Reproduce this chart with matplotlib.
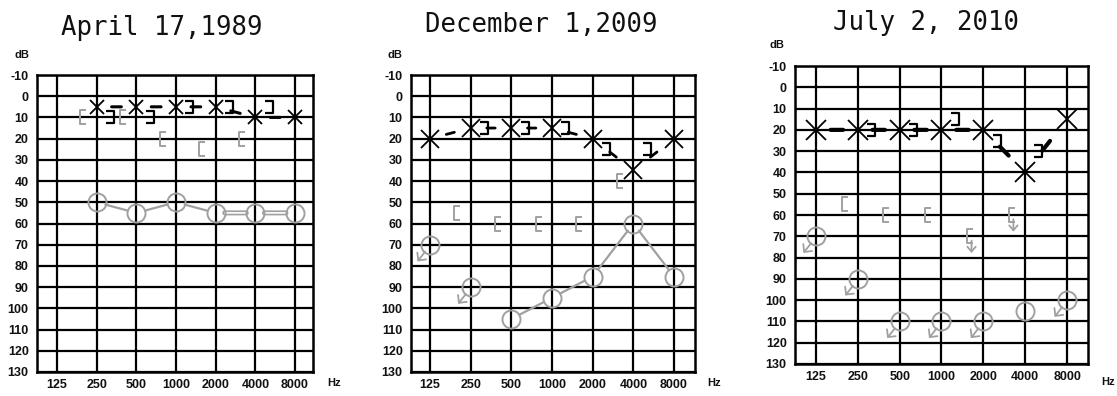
import numpy as np
import matplotlib
matplotlib.use("Agg")
import matplotlib.pyplot as plt
from matplotlib.path import Path
from matplotlib.transforms import ScaledTranslation
from matplotlib.ticker import NullLocator
from matplotlib import font_manager

plt.rcParams['axes.unicode_minus'] = False

# ---------------- data ----------------
FREQS = [125, 250, 500, 1000, 2000, 4000, 8000]
FREQ_LABELS = ['125', '250', '500', '1000', '2000', '4000', '8000']
DB_TICKS = list(range(-10, 131, 10))
TITLES = ['April 17,1989', 'December 1,2009', 'July 2, 2010']

# Panel 1 : April 17, 1989
P1_X_FREQ = [250, 500, 1000, 2000, 4000, 8000]
P1_X_DB = [5, 5, 5, 5, 10, 10]
P1_LB_FREQ = [250, 500, 1000, 2000, 4000]
P1_LB_DB = [10, 10, 5, 5, 5]
P1_RB_FREQ = [250, 500, 1000, 2000, 4000]
P1_RB_DB = [10, 10, 20, 25, 20]
P1_RB_NR = [False, False, False, False, False]
P1_O_FREQ = [250, 500, 1000, 2000, 4000, 8000]
P1_O_DB = [50, 55, 50, 55, 55, 55]
P1_O_NR = [False, False, False, False, False, False]

# Panel 2 : December 1, 2009
P2_X_FREQ = [125, 250, 500, 1000, 2000, 4000, 8000]
P2_X_DB = [20, 15, 15, 15, 20, 35, 20]
P2_LB_FREQ = [250, 500, 1000, 2000, 4000]
P2_LB_DB = [15, 15, 15, 25, 25]
P2_RB_FREQ = [250, 500, 1000, 2000, 4000]
P2_RB_DB = [55, 60, 60, 60, 40]
P2_RB_NR = [False, False, False, False, False]
P2_O_FREQ = [125, 250, 500, 1000, 2000, 4000, 8000]
P2_O_DB = [70, 90, 105, 95, 85, 60, 85]
P2_O_NR = [True, True, False, False, False, False, False]

# Panel 3 : July 2, 2010
P3_X_FREQ = [125, 250, 500, 1000, 2000, 4000, 8000]
P3_X_DB = [20, 20, 20, 20, 20, 40, 15]
P3_LB_FREQ = [250, 500, 1000, 2000, 4000]
P3_LB_DB = [20, 20, 15, 25, 30]
P3_RB_FREQ = [250, 500, 1000, 2000, 4000]
P3_RB_DB = [55, 60, 60, 70, 60]
P3_RB_NR = [False, False, False, True, True]
P3_O_FREQ = [125, 250, 500, 1000, 2000, 4000, 8000]
P3_O_DB = [70, 90, 110, 110, 110, 105, 100]
P3_O_NR = [True, True, True, True, True, False, True]

# ---------------- style ----------------
W, H = 1117, 396
DPI = 100
GRAY = '#a0a0a0'

names = {f.name for f in font_manager.fontManager.ttflist}
if 'Liberation Sans Narrow' in names:
    TICK_FAMILY, TICK_SIZE = 'Liberation Sans Narrow', 10
elif 'Liberation Sans' in names:
    TICK_FAMILY, TICK_SIZE = 'Liberation Sans', 9
else:
    TICK_FAMILY, TICK_SIZE = 'DejaVu Sans', 8
TITLE_FAMILY = 'DejaVu Sans Mono'

fig = plt.figure(figsize=(W / DPI, H / DPI), dpi=DPI)


def rect(l, t, r, b):
    return [l / W, 1 - b / H, (r - l) / W, (b - t) / H]


RIGHT_BR = Path([(-0.33, 0.5), (0.33, 0.5), (0.33, -0.5), (-0.33, -0.5)])  # "]"
LEFT_BR = Path([(0.25, 0.5), (-0.25, 0.5), (-0.25, -0.5), (0.25, -0.5)])   # "["

PANELS = [
    dict(rect=(37, 75, 313, 372), marg=(0.504, 0.454), title=(162, 35), db=(22, 55), hz=(334, 383),
         x=(P1_X_FREQ, P1_X_DB), lb=(P1_LB_FREQ, P1_LB_DB), rb=(P1_RB_FREQ, P1_RB_DB, P1_RB_NR),
         o=(P1_O_FREQ, P1_O_DB, P1_O_NR), xms=10, dash=(7, 2.2), double=True),
    dict(rect=(411, 75, 695, 372), marg=(0.467, 0.516), title=(541, 32), db=(395, 55), hz=(714, 383),
         x=(P2_X_FREQ, P2_X_DB), lb=(P2_LB_FREQ, P2_LB_DB), rb=(P2_RB_FREQ, P2_RB_DB, P2_RB_NR),
         o=(P2_O_FREQ, P2_O_DB, P2_O_NR), xms=13, dash=(6, 2.0), double=False),
    dict(rect=(795, 66, 1088, 364), marg=(0.50, 0.50), title=(926, 30), db=(777, 45), hz=(1108, 382),
         x=(P3_X_FREQ, P3_X_DB), lb=(P3_LB_FREQ, P3_LB_DB), rb=(P3_RB_FREQ, P3_RB_DB, P3_RB_NR),
         o=(P3_O_FREQ, P3_O_DB, P3_O_NR), xms=14, dash=(9, 3.0), double=False),
]


def shifted(ax, dx, dy):
    return ax.transData + ScaledTranslation(dx / 72, dy / 72, fig.dpi_scale_trans)


def seg_len_pts(ax, p0, p1):
    a = ax.transData.transform(p0)
    b = ax.transData.transform(p1)
    return np.hypot(*(b - a)) * 72 / DPI


for i, P in enumerate(PANELS):
    ax = fig.add_axes(rect(*P['rect']))
    ax.set_xscale('log', base=2)
    ax.set_xlim(FREQS[0] * 2 ** -P['marg'][0], FREQS[-1] * 2 ** P['marg'][1])
    ax.set_ylim(130, -10)
    ax.set_autoscale_on(False)
    ax.set_xticks(FREQS)
    ax.set_xticklabels(FREQ_LABELS)
    ax.xaxis.set_minor_locator(NullLocator())
    ax.set_yticks(DB_TICKS)
    ax.set_yticklabels([str(v) for v in DB_TICKS])
    ax.tick_params(length=0, labelsize=TICK_SIZE, colors='#111111')
    ax.tick_params(axis='y', pad=6)
    ax.tick_params(axis='x', pad=5)
    for lab in ax.get_xticklabels() + ax.get_yticklabels():
        lab.set_family(TICK_FAMILY)
        lab.set_fontweight('bold')
    ax.grid(True, color='black', lw=1.6)
    ax.set_axisbelow(True)
    for s in ax.spines.values():
        s.set_linewidth(1.8)

    # --- left-ear air conduction (X) with mid-segment dashes
    xf, xd = P['x']
    on, dlw = P['dash']
    for k in range(len(xf) - 1):
        p0, p1 = (xf[k], xd[k]), (xf[k + 1], xd[k + 1])
        L = seg_len_pts(ax, p0, p1)
        sh = max((L - on) / 2, 0)
        ax.annotate('', xy=p1, xytext=p0,
                    arrowprops=dict(arrowstyle='-', color='black', lw=dlw,
                                    shrinkA=sh, shrinkB=sh, patchA=None, patchB=None),
                    zorder=3)
    ax.plot(xf, xd, ls='none', marker='x', ms=P['xms'], mec='black', mew=1.3, zorder=4)

    # --- left-ear bone conduction "]"
    lf, ld = P['lb']
    ax.plot(lf, ld, ls='none', marker=RIGHT_BR, ms=8, mec='black', mfc='none', mew=1.6,
            transform=shifted(ax, 9.5, 0), zorder=4)

    # --- right-ear bone conduction "["
    rf, rd, rnr = P['rb']
    ax.plot(rf, rd, ls='none', marker=LEFT_BR, ms=9.5, mec=GRAY, mfc='none', mew=1.4,
            transform=shifted(ax, -9.5, 0), zorder=4)
    for f, d, nr in zip(rf, rd, rnr):
        if nr:
            ax.annotate('', xy=(f, d), xycoords=shifted(ax, -8.5, -12),
                        xytext=(f, d), textcoords=shifted(ax, -8.5, -3),
                        arrowprops=dict(arrowstyle='->,head_length=0.35,head_width=0.3',
                                        color=GRAY, lw=1.3, shrinkA=0, shrinkB=0),
                        zorder=4)

    # --- right-ear air conduction (O)
    of, od, onr = P['o']
    oms = 13
    for k in range(len(of) - 1):
        if onr[k] or onr[k + 1]:
            continue
        p0, p1 = (of[k], od[k]), (of[k + 1], od[k + 1])
        ax.annotate('', xy=p1, xytext=p0,
                    arrowprops=dict(arrowstyle='-', color=GRAY, lw=1.6,
                                    shrinkA=oms / 2, shrinkB=oms / 2, patchA=None, patchB=None),
                    zorder=3)
        if P['double'] and od[k] == od[k + 1] and k >= 3:
            ax.annotate('', xy=p1, xytext=p0,
                        arrowprops=dict(arrowstyle='-', color=GRAY, lw=3.6,
                                        shrinkA=oms / 2, shrinkB=oms / 2, patchA=None, patchB=None),
                        zorder=3)
            ax.annotate('', xy=p1, xytext=p0,
                        arrowprops=dict(arrowstyle='-', color='white', lw=1.2,
                                        shrinkA=oms / 2, shrinkB=oms / 2, patchA=None, patchB=None),
                        zorder=3.1)
    ax.plot(of, od, ls='none', marker='o', ms=oms, mec=GRAY, mfc='none', mew=1.4, zorder=4)
    for f, d, nr in zip(of, od, onr):
        if nr:
            ax.annotate('', xy=(f, d), xycoords=shifted(ax, -9, -12),
                        xytext=(f, d), textcoords=shifted(ax, -3.5, -5),
                        arrowprops=dict(arrowstyle='->,head_length=0.4,head_width=0.4',
                                        color=GRAY, lw=1.3, shrinkA=0, shrinkB=0),
                        zorder=4)

    # --- texts
    tx, ty = P['title']
    fig.text(tx / W, 1 - ty / H, TITLES[i], ha='center', va='baseline',
             family=TITLE_FAMILY, fontsize=18.5, color='#111111')
    dx, dy = P['db']
    fig.text(dx / W, 1 - dy / H, 'dB', ha='center', va='center',
             family=TICK_FAMILY, fontsize=TICK_SIZE - 1, fontweight='bold', color='#111111')
    hx, hy = P['hz']
    fig.text(hx / W, 1 - hy / H, 'Hz', ha='center', va='center',
             family=TICK_FAMILY, fontsize=TICK_SIZE - 1, fontweight='bold', color='#111111')

fig.savefig('out.png', dpi=DPI)
